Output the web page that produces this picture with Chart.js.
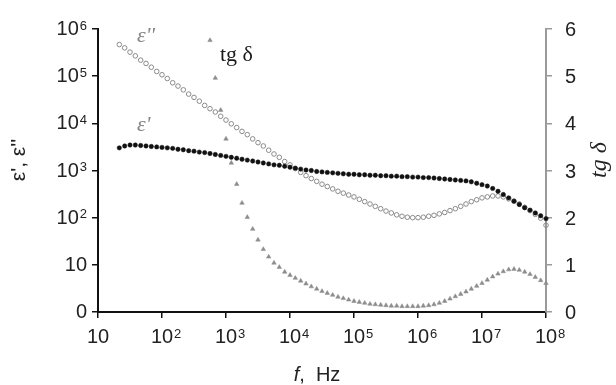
<!DOCTYPE html>
<html><head><meta charset="utf-8">
<script src="https://cdn.jsdelivr.net/npm/chart.js@4"></script>
<style>html,body{margin:0;padding:0;background:#fff}#wrap{width:616px;height:385px}</style>
</head><body><div id="wrap"><canvas id="c" width="616" height="385"></canvas></div>
<script>
// log10 of frequency (Hz)
const logFreq = [1.333,1.417,1.5,1.583,1.667,1.75,1.833,1.917,2,2.083,
 2.167,2.25,2.333,2.417,2.5,2.583,2.667,2.75,2.833,2.917,
 3,3.083,3.167,3.25,3.333,3.417,3.5,3.583,3.667,3.75,
 3.833,3.917,4,4.083,4.167,4.25,4.333,4.417,4.5,4.583,
 4.667,4.75,4.833,4.917,5,5.083,5.167,5.25,5.333,5.417,
 5.5,5.583,5.667,5.75,5.833,5.917,6,6.083,6.167,6.25,
 6.333,6.417,6.5,6.583,6.667,6.75,6.833,6.917,7,7.083,
 7.167,7.25,7.333,7.417,7.5,7.583,7.667,7.75,7.833,7.917,8];
// log10 of eps'
const epsPrimeLog = [3.48,3.52,3.54,3.54,3.53,3.52,3.51,3.50,3.49,3.48,
 3.47,3.45,3.44,3.42,3.41,3.39,3.38,3.36,3.34,3.32,
 3.30,3.28,3.26,3.24,3.22,3.20,3.18,3.16,3.14,3.12,
 3.11,3.09,3.07,3.05,3.03,3.01,3.00,2.98,2.97,2.96,
 2.95,2.94,2.93,2.92,2.92,2.91,2.91,2.90,2.90,2.89,
 2.89,2.88,2.88,2.87,2.87,2.86,2.86,2.85,2.85,2.84,
 2.83,2.82,2.81,2.80,2.79,2.78,2.76,2.73,2.70,2.67,
 2.62,2.56,2.49,2.42,2.35,2.28,2.21,2.16,2.10,2.04,1.98];
// log10 of eps''
const epsDoublePrimeLog = [5.67,5.60,5.51,5.43,5.34,5.27,5.19,5.10,5.03,4.95,
 4.86,4.79,4.71,4.62,4.55,4.47,4.38,4.31,4.24,4.15,
 4.07,3.99,3.91,3.83,3.76,3.67,3.59,3.52,3.43,3.35,
 3.28,3.19,3.12,3.04,2.96,2.89,2.83,2.77,2.71,2.66,
 2.61,2.56,2.52,2.48,2.44,2.39,2.34,2.29,2.24,2.19,
 2.14,2.10,2.06,2.03,2.01,2.00,2.00,2.01,2.03,2.05,
 2.08,2.11,2.15,2.19,2.24,2.29,2.34,2.38,2.42,2.44,
 2.46,2.46,2.44,2.40,2.35,2.29,2.22,2.15,2.07,1.99,1.84];
// tg delta (right axis)
const tanDelta = [null,null,null,null,null,null,null,null,null,null,
 null,null,null,null,null,null,null,5.76,4.96,4.28,
 3.67,3.16,2.71,2.31,2.01,1.76,1.53,1.33,1.17,1.04,
 0.95,0.85,0.78,0.72,0.66,0.60,0.54,0.49,0.44,0.40,
 0.36,0.32,0.29,0.26,0.23,0.21,0.19,0.17,0.16,0.15,
 0.14,0.13,0.13,0.12,0.12,0.12,0.12,0.13,0.14,0.16,
 0.19,0.23,0.28,0.33,0.38,0.43,0.49,0.55,0.61,0.68,
 0.75,0.81,0.86,0.90,0.91,0.89,0.85,0.80,0.74,0.67,0.61];
const xTickExp = [1,2,3,4,5,6,7,8];
const yTickExp = [0,1,2,3,4,5,6];
const tanTicks = [0,1,2,3,4,5,6];

const pts = (arr, isLog) => logFreq.map((lf,i)=>arr[i]==null?null:{x:Math.pow(10,lf), y:isLog?Math.pow(10,arr[i]):arr[i]}).filter(p=>p);

const SANS = '"Liberation Sans", Arial, sans-serif';
const SERIF = '"Liberation Serif", "Times New Roman", serif';

const textPlugin = {
  id:'txt',
  afterDraw(chart){
    const ctx = chart.ctx, sx = chart.scales.x, sy = chart.scales.y, sr = chart.scales.y1;
    ctx.save();
    ctx.fillStyle = '#222';
    ctx.textBaseline = 'alphabetic';
    const base = '20px ' + SANS, sup = '13px ' + SANS;
    // left tick labels
    yTickExp.forEach(e=>{
      const py = sy.getPixelForValue(Math.pow(10,e));
      const main = e===0 ? '0' : '10';
      const s = e>1 ? String(e) : '';
      ctx.font = sup; const sw = s ? ctx.measureText(s).width + 1 : 0;
      ctx.font = base; const mw = ctx.measureText(main).width;
      const right = 87, bl = py + 6;
      ctx.textAlign = 'left';
      ctx.fillText(main, right - sw - mw, bl);
      if (s){ ctx.font = sup; ctx.fillText(s, right - sw + 1, bl - 5.5); }
    });
    // bottom tick labels
    xTickExp.forEach(e=>{
      const px = sx.getPixelForValue(Math.pow(10,e));
      const s = e>1 ? String(e) : '';
      ctx.font = base; const mw = ctx.measureText('10').width;
      ctx.textAlign = 'left';
      const bl = 343;
      ctx.fillText('10', px - mw/2, bl);
      if (s){ ctx.font = sup; ctx.fillText(s, px + mw/2 + 1, bl - 5.5); }
    });
    // right tick labels
    ctx.font = base; ctx.textAlign = 'left';
    tanTicks.forEach(v=>{
      const py = sr.getPixelForValue(v);
      ctx.fillText(String(v), 565, py + 7);
    });
    // left title
    ctx.save();
    ctx.translate(19, 160); ctx.rotate(-Math.PI/2);
    ctx.textAlign = 'center'; ctx.textBaseline = 'middle';
    ctx.font = '21px ' + SANS;
    ctx.fillText("\u03b5', \u03b5''", 0, 0);
    ctx.restore();
    // right title
    ctx.save();
    ctx.translate(600, 160); ctx.rotate(-Math.PI/2);
    ctx.textAlign = 'center'; ctx.textBaseline = 'middle';
    ctx.font = 'italic 24px ' + SERIF;
    ctx.fillText('tg \u03b4', 0, 0);
    ctx.restore();
    // x title
    ctx.textAlign = 'left'; ctx.textBaseline = 'alphabetic';
    ctx.font = 'italic 20px ' + SANS; const fw = ctx.measureText('f').width;
    ctx.font = '20px ' + SANS; const rw = ctx.measureText(',  Hz').width;
    const startX = 317 - (fw + rw)/2;
    ctx.font = 'italic 20px ' + SANS; ctx.fillText('f', startX, 381);
    ctx.font = '20px ' + SANS; ctx.fillText(',  Hz', startX + fw, 381);
    // curve annotations
    ctx.fillStyle = '#858585';
    ctx.font = 'italic 22px ' + SERIF;
    ctx.fillText("\u03b5''", 137, 42);
    ctx.fillText("\u03b5'", 137, 131);
    ctx.fillStyle = '#1a1a1a';
    ctx.font = '22px ' + SERIF;
    ctx.fillText('tg \u03b4', 220, 61);
    ctx.restore();
  }
};

new Chart(document.getElementById('c'), {
  type: 'scatter',
  data: { datasets: [
    { label:"eps'", data: pts(epsPrimeLog,true), yAxisID:'y', order:0, clip:false,
      pointStyle:'circle', pointRadius:2.2, backgroundColor:'#111', borderColor:'#111', borderWidth:0.5, showLine:false },
    { label:"eps''", data: pts(epsDoublePrimeLog,true), yAxisID:'y', order:1, clip:false,
      pointStyle:'circle', pointRadius:2.3, backgroundColor:'rgba(255,255,255,0)', borderColor:'#8a8a8a', borderWidth:1, showLine:false },
    { label:'tg delta', data: pts(tanDelta,false), yAxisID:'y1', order:2, clip:false,
      pointStyle:'triangle', pointRadius:2.6, backgroundColor:'#8c8c8c', borderColor:'#8c8c8c', borderWidth:0.5, showLine:false }
  ]},
  options: {
    responsive:false, animation:false, events:[],
    layout:{ padding:{ top:29, left:0, right:0, bottom:0 } },
    plugins:{ legend:{display:false}, tooltip:{enabled:false} },
    scales:{
      x:{ type:'logarithmic', position:'bottom', min:10, max:1e8,
          afterBuildTicks:s=>{ s.ticks = xTickExp.map(e=>({value:Math.pow(10,e)})); },
          ticks:{display:false},
          grid:{ drawOnChartArea:false, drawTicks:true, tickLength:6, color:'#111', lineWidth:1.5 },
          border:{ display:true, color:'#111', width:2 },
          afterFit:s=>{ s.height = 73; } },
      y:{ type:'logarithmic', position:'left', min:1, max:1e6,
          afterBuildTicks:s=>{ s.ticks = yTickExp.map(e=>({value:Math.pow(10,e)})); },
          ticks:{display:false},
          grid:{ drawOnChartArea:false, drawTicks:true, tickLength:6, color:'#111', lineWidth:1.5 },
          border:{ display:true, color:'#111', width:2 },
          afterFit:s=>{ s.width = 98; } },
      y1:{ type:'linear', position:'right', min:0, max:6,
          afterBuildTicks:s=>{ s.ticks = tanTicks.map(v=>({value:v})); },
          ticks:{display:false},
          grid:{ drawOnChartArea:false, drawTicks:true, tickLength:6, color:'#9a9a9a', lineWidth:1.5 },
          border:{ display:true, color:'#9a9a9a', width:2 },
          afterFit:s=>{ s.width = 70; } }
    }
  },
  plugins:[textPlugin]
});
</script>
</body></html>
